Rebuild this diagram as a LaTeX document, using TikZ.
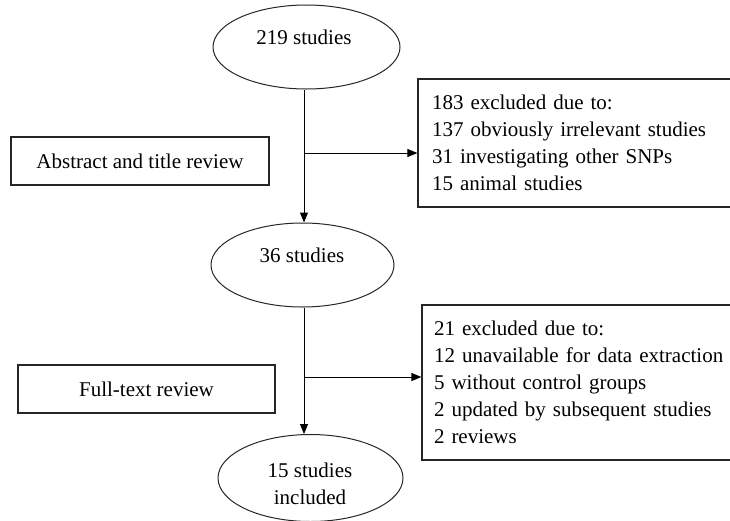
\documentclass[tikz,border=0pt]{standalone}
\usepackage{fontspec}
\setmainfont{Liberation Serif}
\usetikzlibrary{shapes.geometric,arrows.meta}
\begin{document}
\begin{tikzpicture}[x=1pt,y=-1pt,
  every node/.style={font=\fontsize{21}{27}\selectfont},
  oval/.style={draw=black!85, line width=1pt, ellipse, inner sep=0pt},
  txt/.style={inner sep=0pt, align=center},
  sidebox/.style={draw=black!85, line width=1.2pt, rectangle, inner sep=0pt, minimum height=48pt},
  exbox/.style={draw=black!85, line width=1.2pt, rectangle, align=left, text width=294pt, inner ysep=0pt},
  conn/.style={line width=1pt, -{Triangle[length=10pt,width=8pt]}},
  plainline/.style={line width=1pt}]
\useasboundingbox (0,0) rectangle (730,520);
% ovals
\node[oval, minimum width=187pt, minimum height=84pt] (e1) at (306.5,47) {};
\node[txt] (e1t) at (304,37) {219 studies};
\node[oval, minimum width=183pt, minimum height=84pt] (e2) at (302.5,265) {};
\node[txt] (e2t) at (302,255) {36 studies};
\node[oval, minimum width=185pt, minimum height=87pt] (e3) at (310.5,478) {};
\node[txt] (e3t) at (310,483.5) {15 studies\\included};
% side boxes
\node[sidebox, minimum width=258pt] (s1) at (140,161) {Abstract and title review};
\node[sidebox, minimum width=257pt] (s2) at (146.5,389) {Full-text review};
% exclusion boxes
\node[exbox, inner xsep=14pt, minimum height=128pt] (x1) at (579,143)
  {183 excluded due to:\\137 obviously irrelevant studies\\31 investigating other SNPs\\15 animal studies};
\node[exbox, inner xsep=12pt, minimum height=155pt] (x2) at (581,382.5)
  {21 excluded due to:\\12 unavailable for data extraction\\5 without control groups\\2 updated by subsequent studies\\2 reviews};
% junctions
\coordinate (j1) at (304,153);
\coordinate (j2) at (304,377);
% connectors
\draw[conn] (e1.south -| j1) -- (e2.north -| j1);
\draw[conn] (j1) -- (j1 -| x1.west);
\draw[conn] (e2.south -| j2) -- (e3.north -| j2);
\draw[conn] (j2) -- (j2 -| x2.west);
\end{tikzpicture}
\end{document}
